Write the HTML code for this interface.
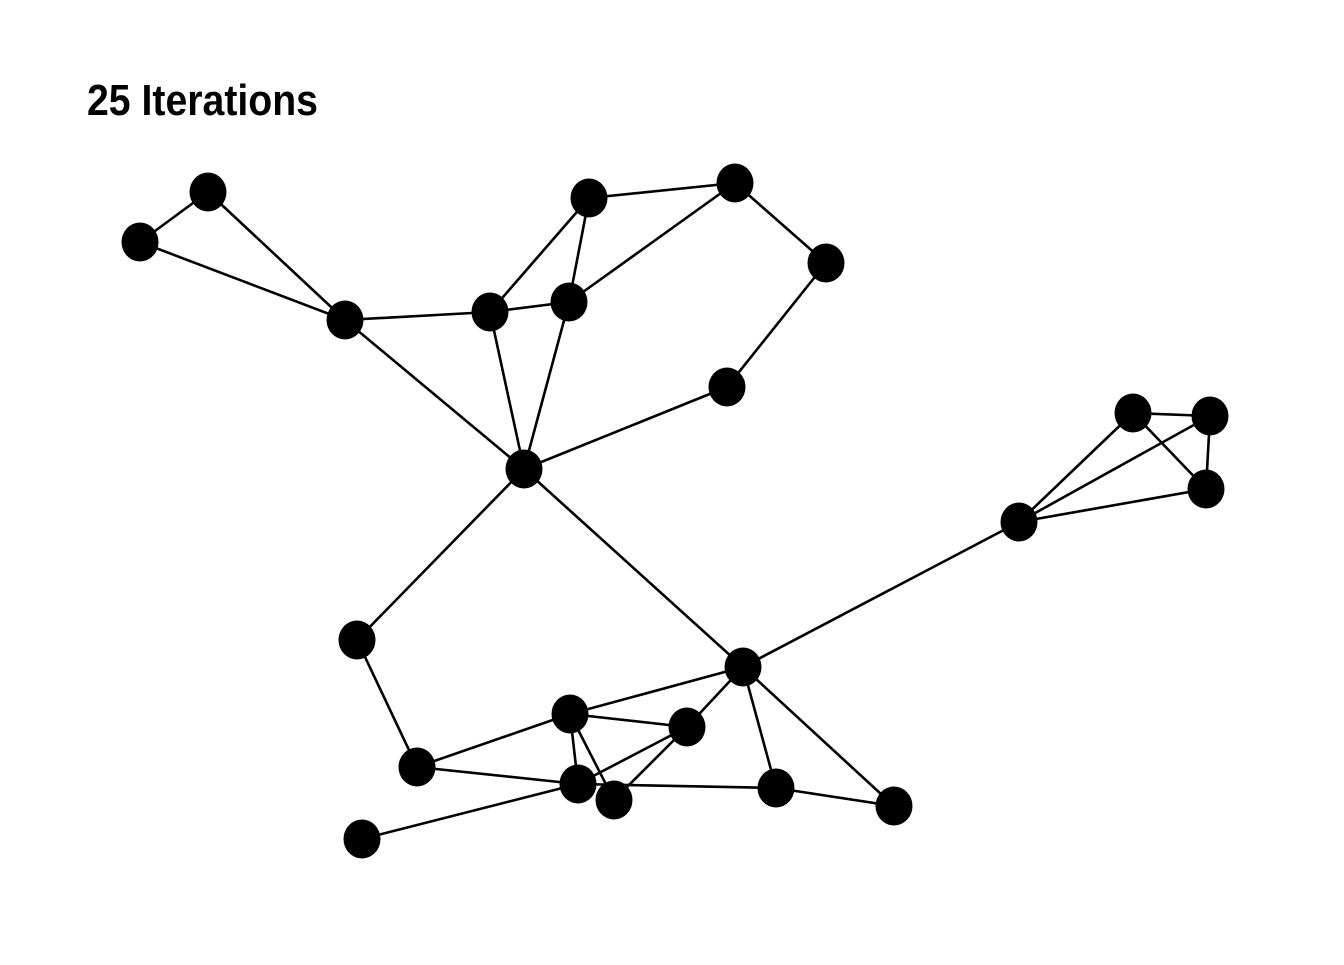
<!DOCTYPE html>
<html><head><style>html,body{margin:0;padding:0;background:#fff}</style></head><body>
<svg width="1344" height="960" viewBox="0 0 1344 960" xmlns="http://www.w3.org/2000/svg">
<rect width="1344" height="960" fill="#fff"/>
<text x="87" y="115" font-family="'Liberation Sans Narrow','Liberation Sans',sans-serif" font-weight="bold" font-size="44" textLength="231" lengthAdjust="spacingAndGlyphs">25 Iterations</text>
<g stroke="#000" stroke-width="2.6" fill="none">
<line x1="208" y1="192" x2="140" y2="242"/>
<line x1="208" y1="192" x2="345" y2="320"/>
<line x1="140" y1="242" x2="345" y2="320"/>
<line x1="345" y1="320" x2="490" y2="312"/>
<line x1="490" y1="312" x2="569" y2="302"/>
<line x1="345" y1="320" x2="524" y2="469"/>
<line x1="490" y1="312" x2="524" y2="469"/>
<line x1="569" y1="302" x2="524" y2="469"/>
<line x1="490" y1="312" x2="589" y2="198"/>
<line x1="589" y1="198" x2="569" y2="302"/>
<line x1="589" y1="198" x2="735" y2="183"/>
<line x1="735" y1="183" x2="569" y2="302"/>
<line x1="735" y1="183" x2="826" y2="263"/>
<line x1="826" y1="263" x2="727" y2="387"/>
<line x1="727" y1="387" x2="524" y2="469"/>
<line x1="524" y1="469" x2="357" y2="640"/>
<line x1="524" y1="469" x2="743" y2="667"/>
<line x1="357" y1="640" x2="417" y2="767"/>
<line x1="417" y1="767" x2="570" y2="714"/>
<line x1="417" y1="767" x2="578" y2="784"/>
<line x1="362" y1="839" x2="578" y2="784"/>
<line x1="570" y1="714" x2="578" y2="784"/>
<line x1="570" y1="714" x2="614" y2="800"/>
<line x1="570" y1="714" x2="687" y2="727"/>
<line x1="570" y1="714" x2="743" y2="667"/>
<line x1="687" y1="727" x2="743" y2="667"/>
<line x1="687" y1="727" x2="578" y2="784"/>
<line x1="687" y1="727" x2="614" y2="800"/>
<line x1="578" y1="784" x2="776" y2="788"/>
<line x1="743" y1="667" x2="776" y2="788"/>
<line x1="743" y1="667" x2="894" y2="806"/>
<line x1="776" y1="788" x2="894" y2="806"/>
<line x1="743" y1="667" x2="1019" y2="522"/>
<line x1="1019" y1="522" x2="1133" y2="413"/>
<line x1="1019" y1="522" x2="1210" y2="416"/>
<line x1="1019" y1="522" x2="1206" y2="489"/>
<line x1="1133" y1="413" x2="1210" y2="416"/>
<line x1="1133" y1="413" x2="1206" y2="489"/>
<line x1="1210" y1="416" x2="1206" y2="489"/>
</g>
<g fill="#000">
<ellipse cx="208" cy="192" rx="18.5" ry="19.5"/>
<ellipse cx="140" cy="242" rx="18.5" ry="19.5"/>
<ellipse cx="345" cy="320" rx="18.5" ry="19.5"/>
<ellipse cx="490" cy="312" rx="18.5" ry="19.5"/>
<ellipse cx="569" cy="302" rx="18.5" ry="19.5"/>
<ellipse cx="589" cy="198" rx="18.5" ry="19.5"/>
<ellipse cx="735" cy="183" rx="18.5" ry="19.5"/>
<ellipse cx="826" cy="263" rx="18.5" ry="19.5"/>
<ellipse cx="727" cy="387" rx="18.5" ry="19.5"/>
<ellipse cx="524" cy="469" rx="18.5" ry="19.5"/>
<ellipse cx="357" cy="640" rx="18.5" ry="19.5"/>
<ellipse cx="417" cy="767" rx="18.5" ry="19.5"/>
<ellipse cx="570" cy="714" rx="18.5" ry="19.5"/>
<ellipse cx="687" cy="727" rx="18.5" ry="19.5"/>
<ellipse cx="743" cy="667" rx="18.5" ry="19.5"/>
<ellipse cx="578" cy="784" rx="18.5" ry="19.5"/>
<ellipse cx="614" cy="800" rx="18.5" ry="19.5"/>
<ellipse cx="776" cy="788" rx="18.5" ry="19.5"/>
<ellipse cx="894" cy="806" rx="18.5" ry="19.5"/>
<ellipse cx="362" cy="839" rx="18.5" ry="19.5"/>
<ellipse cx="1133" cy="413" rx="18.5" ry="19.5"/>
<ellipse cx="1210" cy="416" rx="18.5" ry="19.5"/>
<ellipse cx="1206" cy="489" rx="18.5" ry="19.5"/>
<ellipse cx="1019" cy="522" rx="18.5" ry="19.5"/>
</g>
</svg>
</body></html>
